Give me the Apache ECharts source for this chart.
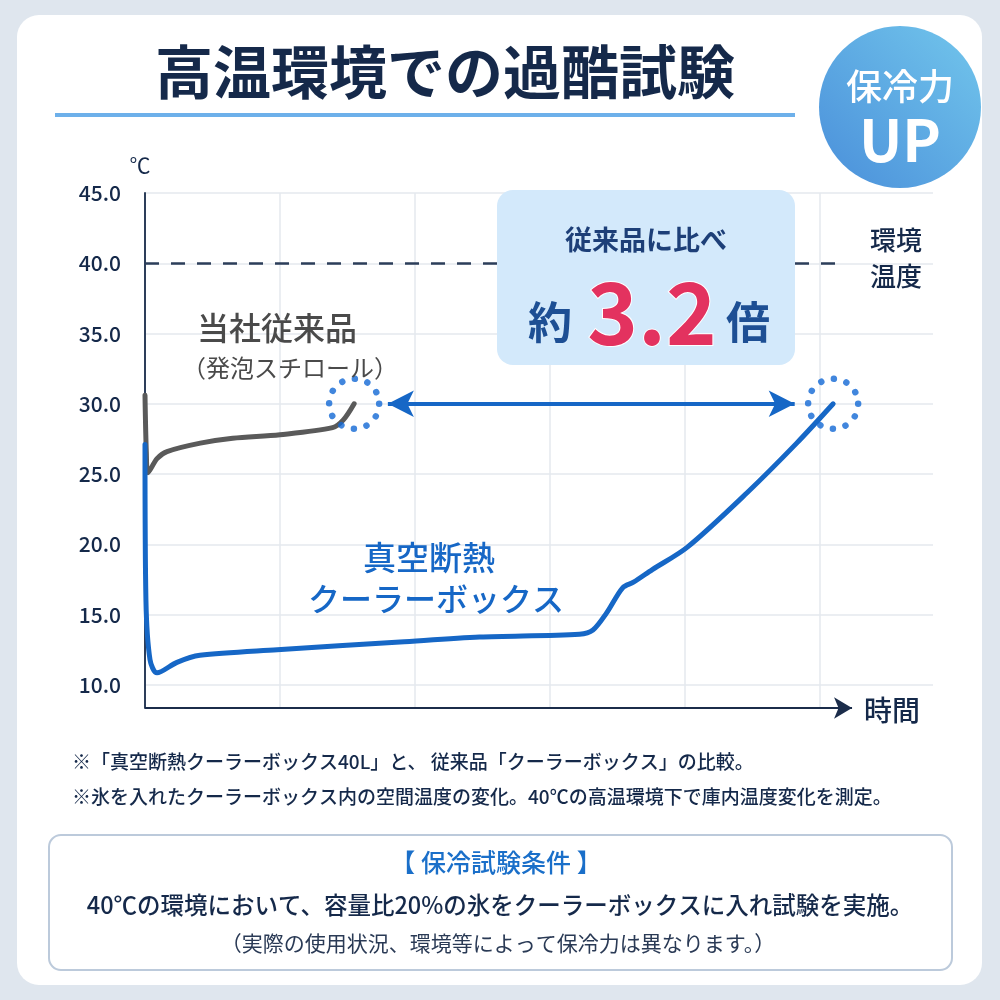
<!DOCTYPE html>
<html style="height: 100%">
<head>
    <meta charset="utf-8">
</head>
<body style="height: 100%; margin: 0; background: #dfe6ee">
<div id="container" style="width: 1000px; height: 1000px"></div>
<script type="text/javascript" src="https://cdn.jsdelivr.net/npm/echarts@6/dist/echarts.min.js"></script>
<script type="text/javascript">
    var FONT = '"Noto Sans CJK JP", "Noto Sans", sans-serif';
    var NAVY = '#15294a';
    var BLUE = '#1667c6';

    // 当社従来品（発泡スチロール） [時間, ℃]
    var conventional = [
        [0, 30.6], [0.01, 26.5], [0.022, 25.1], [0.089, 26.1], [0.163, 26.6],
        [0.41, 27.2], [0.65, 27.55], [1.0, 27.8], [1.39, 28.3], [1.47, 28.85], [1.55, 30.0]
    ];
    // 真空断熱クーラーボックス [時間, ℃]
    var vacuum = [
        [0, 27.1], [0.007, 16.0], [0.037, 11.8], [0.089, 10.85], [0.237, 11.6],
        [0.407, 12.1], [0.98, 12.5], [1.89, 13.05], [2.48, 13.4], [3.22, 13.6],
        [3.32, 13.9], [3.42, 15.1], [3.54, 16.9], [3.62, 17.3], [3.76, 18.2],
        [4.02, 19.8], [4.46, 23.65], [4.83, 27.2], [5.1, 30.0]
    ];
    var endPoints = [[1.55, 30.0], [5.1, 30.0]];
    var ambient = 40;
    var yTicks = [10, 15, 20, 25, 30, 35, 40, 45];

    var dom = document.getElementById("container");
    var myChart = echarts.init(dom);

    var option = {
        backgroundColor: '#dfe6ee',
        textStyle: {fontFamily: FONT},
        grid: {left: 145, top: 193, right: 67, bottom: 292},
        xAxis: {
            type: 'value',
            min: 0,
            max: 5.84,
            interval: 1,
            axisLine: {show: false},
            axisTick: {show: false},
            axisLabel: {show: false},
            splitLine: {show: true, showMinLine: false, showMaxLine: false, lineStyle: {color: '#e4e8ee', width: 1.5}}
        },
        yAxis: {
            type: 'value',
            min: 8.35,
            max: 45,
            minInterval: 5,
            maxInterval: 5,
            axisLine: {show: true, lineStyle: {color: '#2d3e5a', width: 2}},
            axisTick: {show: false},
            axisLabel: {
                color: NAVY,
                fontSize: 21,
                fontWeight: 500,
                fontFamily: FONT,
                margin: 24,
                formatter: function (v) {
                    return yTicks.indexOf(Math.round(v * 100) / 100) >= 0 ? v.toFixed(1) : '';
                }
            },
            splitLine: {show: true, showMinLine: false, lineStyle: {color: '#e4e8ee', width: 1.5}}
        },
        series: [
            {
                name: '当社従来品',
                type: 'line',
                data: conventional,
                symbol: 'none',
                smooth: 0.3,
                lineStyle: {color: '#5a5a5a', width: 5, cap: 'round'},
                z: 3
            },
            {
                name: '真空断熱クーラーボックス',
                type: 'line',
                data: vacuum,
                symbol: 'none',
                smooth: 0.3,
                lineStyle: {color: BLUE, width: 5, cap: 'round'},
                z: 4
            },
            {
                name: 'guides',
                type: 'line',
                data: [],
                symbol: 'none',
                silent: true,
                markLine: {
                    silent: true,
                    label: {show: false},
                    data: [
                        // 環境温度 40℃
                        [{coord: [0, ambient], symbol: 'none', lineStyle: {color: '#2c3e5a', width: 2.5, type: [14, 12]}},
                         {coord: [5.2, ambient], symbol: 'none'}],
                        // 時間軸
                        [{coord: [0, 8.35], symbol: 'none', lineStyle: {color: '#1b2c4a', width: 2, type: 'solid'}},
                         {coord: [5.24, 8.35], symbol: 'arrow', symbolSize: [16, 18]}],
                        // 比較矢印
                        [{coord: [1.8, 30], symbol: 'arrow', symbolSize: [20, 26], lineStyle: {color: BLUE, width: 4, type: 'solid'}},
                         {coord: [4.815, 30], symbol: 'arrow', symbolSize: [20, 26]}]
                    ]
                },
                z: 2
            },
            {
                name: 'ends',
                type: 'scatter',
                data: endPoints,
                symbol: 'circle',
                symbolSize: 50,
                silent: true,
                itemStyle: {
                    color: 'rgba(0,0,0,0)',
                    borderColor: '#1268d4',
                    borderWidth: 6.5,
                    borderType: [0.01, 13.08],
                    borderCap: 'round'
                },
                z: 5
            }
        ],
        graphic: [
            // card
            {type: 'rect', z: -10, shape: {x: 17, y: 15, width: 965, height: 970, r: 22},
                style: {fill: '#ffffff'}},
            // title
            {type: 'text', z: 10, x: 445, y: 72, style: {text: '高温環境での過酷試験', fill: NAVY,
                    font: 'bold 58px ' + FONT, align: 'center', verticalAlign: 'middle'}},
            {type: 'rect', z: 10, shape: {x: 55, y: 113, width: 740, height: 4},
                style: {fill: '#6db0ea'}},
            // badge
            {type: 'circle', z: 10, shape: {cx: 900, cy: 107, r: 81},
                style: {fill: new echarts.graphic.LinearGradient(1, 0, 0, 1, [
                        {offset: 0, color: '#72c6ec'}, {offset: 1, color: '#4a8fda'}])}},
            {type: 'text', z: 11, x: 900, y: 86, style: {text: '保冷力', fill: '#ffffff',
                    font: '500 36px ' + FONT, align: 'center', verticalAlign: 'middle'}},
            {type: 'text', z: 11, x: 900, y: 140, style: {text: 'UP', fill: '#ffffff',
                    font: 'bold 58px ' + FONT, align: 'center', verticalAlign: 'middle'}},
            // unit
            {type: 'text', z: 10, x: 140, y: 165, style: {text: '℃', fill: NAVY,
                    font: '21px ' + FONT, align: 'center', verticalAlign: 'middle'}},
            // comparison box
            {type: 'rect', z: 20, shape: {x: 497, y: 190, width: 298, height: 175, r: 16},
                style: {fill: '#d3e9fb'}},
            {type: 'text', z: 21, x: 646, y: 240, style: {text: '従来品に比べ', fill: '#1d3f78',
                    font: 'bold 27px ' + FONT, align: 'center', verticalAlign: 'middle'}},
            {type: 'text', z: 21, x: 550, y: 322, style: {text: '約', fill: '#1d4f94',
                    font: 'bold 44px ' + FONT, align: 'center', verticalAlign: 'middle'}},
            {type: 'text', z: 21, x: 652, y: 312, style: {text: '3.2', fill: '#e3325f',
                    font: 'bold 86px ' + FONT, align: 'center', verticalAlign: 'middle',
                    stroke: '#ffffff', lineWidth: 2}},
            {type: 'text', z: 21, x: 748, y: 322, style: {text: '倍', fill: '#1d4f94',
                    font: 'bold 44px ' + FONT, align: 'center', verticalAlign: 'middle'}},
            // ambient label
            {type: 'text', z: 10, x: 896, y: 240, style: {text: '環境', fill: NAVY,
                    font: '500 26px ' + FONT, align: 'center', verticalAlign: 'middle'}},
            {type: 'text', z: 10, x: 896, y: 276, style: {text: '温度', fill: NAVY,
                    font: '500 26px ' + FONT, align: 'center', verticalAlign: 'middle'}},
            // series labels
            {type: 'text', z: 10, x: 277, y: 328, style: {text: '当社従来品', fill: '#4a4a4a',
                    font: '500 32px ' + FONT, align: 'center', verticalAlign: 'middle'}},
            {type: 'text', z: 10, x: 290, y: 368, style: {text: '（発泡スチロール）', fill: '#4a4a4a',
                    font: '24px ' + FONT, align: 'center', verticalAlign: 'middle'}},
            {type: 'text', z: 10, x: 429, y: 557, style: {text: '真空断熱', fill: BLUE,
                    font: '500 33px ' + FONT, align: 'center', verticalAlign: 'middle'}},
            {type: 'text', z: 10, x: 436, y: 599, style: {text: 'クーラーボックス', fill: BLUE,
                    font: '500 32px ' + FONT, align: 'center', verticalAlign: 'middle'}},
            // x axis name
            {type: 'text', z: 10, x: 892, y: 710, style: {text: '時間', fill: NAVY,
                    font: '500 28px ' + FONT, align: 'center', verticalAlign: 'middle'}},
            // notes
            {type: 'text', z: 10, x: 72, y: 762, style: {text: '※「真空断熱クーラーボックス40L」と、 従来品「クーラーボックス」の比較。',
                    fill: NAVY, font: '500 19px ' + FONT, align: 'left', verticalAlign: 'middle'}},
            {type: 'text', z: 10, x: 72, y: 797, style: {text: '※氷を入れたクーラーボックス内の空間温度の変化。40℃の高温環境下で庫内温度変化を測定。',
                    fill: NAVY, font: '500 19px ' + FONT, align: 'left', verticalAlign: 'middle'}},
            // conditions box
            {type: 'rect', z: 10, shape: {x: 49, y: 835, width: 903, height: 135, r: 12},
                style: {fill: '#ffffff', stroke: '#bccadb', lineWidth: 2}},
            {type: 'text', z: 11, x: 496, y: 862, style: {text: '【 保冷試験条件 】', fill: '#1a6fc9',
                    font: '500 25px ' + FONT, align: 'center', verticalAlign: 'middle'}},
            {type: 'text', z: 11, x: 500, y: 905, style: {text: '40℃の環境において、容量比20%の氷をクーラーボックスに入れ試験を実施。',
                    fill: NAVY, font: '500 23.5px ' + FONT, align: 'center', verticalAlign: 'middle'}},
            {type: 'text', z: 11, x: 498, y: 943, style: {text: '（実際の使用状況、環境等によって保冷力は異なります。）',
                    fill: '#2a3a55', font: '21px ' + FONT, align: 'center', verticalAlign: 'middle'}}
        ]
    };

    myChart.setOption(option);
</script>
</body>
</html>
